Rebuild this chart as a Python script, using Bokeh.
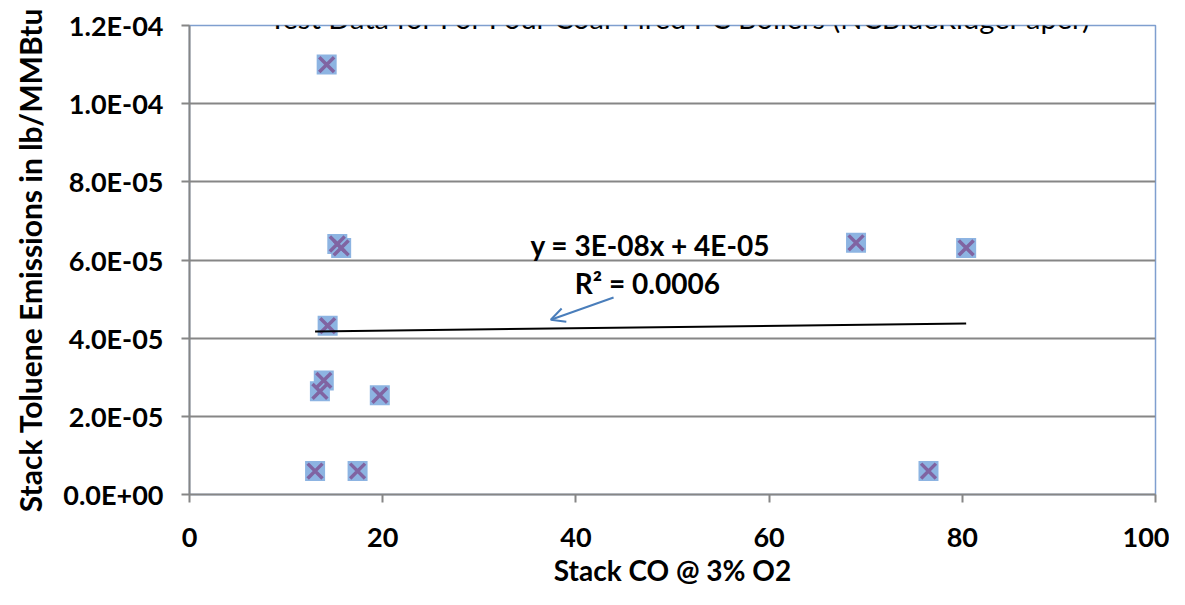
import numpy as np
from bokeh.plotting import figure
from bokeh.models import Range1d, FixedTicker, CustomJSTickFormatter, Label, Arrow, OpenHead
from bokeh.embed import file_html
from bokeh.resources import INLINE

# Data
co_x = [14.2, 15.3, 15.7, 14.3, 13.9, 13.5, 19.7, 13.0, 17.4, 69.0, 80.4, 76.5]
toluene_y = [1.10e-4, 6.41e-5, 6.31e-5, 4.32e-5, 2.92e-5, 2.64e-5, 2.54e-5,
             0.60e-5, 0.60e-5, 6.44e-5, 6.31e-5, 0.60e-5]
y_ticks = [0, 2e-5, 4e-5, 6e-5, 8e-5, 1e-4, 1.2e-4]
x_ticks = [0, 20, 40, 60, 80, 100]

title_text = "Test Data for For Four Coal-Fired PC Boilers (NCBlueRidgePaper)"
eq_text = "y = 3E-08x + 4E-05"
r2_text = "R\u00b2 = 0.0006"

# annotation anchors (data units)
title_pos = (50.8, 1.22e-4)
eq_pos = (47.7, 6.39e-5)
r2_pos = (47.4, 5.41e-5)
arrow_start = (43.9, 5.04e-5)
arrow_end = (37.4, 4.47e-5)

FONT = "Lato"
GREY = "#868686"

p = figure(width=1169, height=589, output_backend="svg", toolbar_location=None,
           x_range=Range1d(0, 100), y_range=Range1d(0, 1.2e-4),
           min_border_left=189, min_border_right=14, min_border_top=25, min_border_bottom=83)

p.outline_line_color = "#7f9fcf"
p.outline_line_width = 1.5
p.background_fill_color = "white"
p.border_fill_color = "white"

p.xgrid.grid_line_color = None
p.ygrid.grid_line_color = GREY
p.ygrid.grid_line_width = 2
p.ygrid.ticker = FixedTicker(ticks=y_ticks)

p.yaxis.ticker = FixedTicker(ticks=y_ticks)
p.xaxis.ticker = FixedTicker(ticks=x_ticks)
p.yaxis.formatter = CustomJSTickFormatter(code="""
    var s = tick.toExponential(1);
    return s.replace('e-', 'E-0').replace('e+', 'E+0');
""")
for ax in (p.xaxis, p.yaxis):
    ax.axis_line_color = GREY
    ax.axis_line_width = 2
    ax.major_tick_line_color = GREY
    ax.major_tick_line_width = 2
    ax.major_tick_out = 8
    ax.major_tick_in = 0
    ax.minor_tick_line_color = None
    ax.major_label_text_font = FONT
    ax.major_label_text_font_style = "bold"
    ax.major_label_text_font_size = "27px"
    ax.major_label_text_color = "black"
    ax.axis_label_text_font = FONT
    ax.axis_label_text_font_style = "bold"
    ax.axis_label_text_color = "black"

p.xaxis.axis_label = "Stack CO @ 3% O2"
p.yaxis.axis_label = "Stack Toluene Emissions in lb/MMBtu"
p.xaxis.axis_label_text_font_size = "28px"
p.yaxis.axis_label_text_font_size = "30px"
p.xaxis.major_label_standoff = 25
p.yaxis.major_label_standoff = 18
p.xaxis.axis_label_standoff = 3
p.yaxis.axis_label_standoff = 12

# markers
p.scatter(co_x, toluene_y, marker="square", size=20, fill_color="#8db4e2", line_color=None)
p.scatter(co_x, toluene_y, marker="x", size=21, line_color="#8064a2", line_width=3.5)

# linear trendline through the data range
slope, intercept = np.polyfit(co_x, toluene_y, 1)
xs = np.array([min(co_x), max(co_x)])
p.line(xs, slope * xs + intercept, line_color="black", line_width=2)

p.add_layout(Label(x=title_pos[0], y=title_pos[1], text=title_text, text_align="center",
                   text_baseline="alphabetic", text_font=FONT, text_font_size="29px",
                   text_color="black", level="overlay"))
for pos, txt in ((eq_pos, eq_text), (r2_pos, r2_text)):
    p.add_layout(Label(x=pos[0], y=pos[1], text=txt, text_align="center",
                       text_baseline="alphabetic", text_font=FONT, text_font_size="28px",
                       text_font_style="bold", text_color="black"))

p.add_layout(Arrow(x_start=arrow_start[0], y_start=arrow_start[1], x_end=arrow_end[0], y_end=arrow_end[1],
                   line_color="#4a7ebb", line_width=2,
                   end=OpenHead(size=14, line_color="#4a7ebb", line_width=2)))

open("out.html", "w").write(file_html(p, INLINE))
